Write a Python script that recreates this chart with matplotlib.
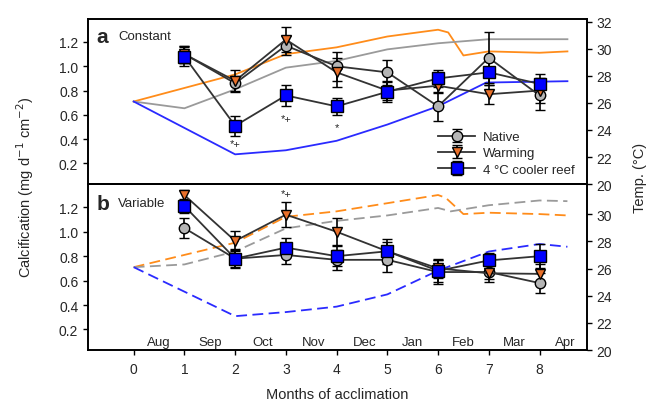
import matplotlib
matplotlib.use('Agg')
import matplotlib.pyplot as plt
import numpy as np

plt.rcParams['font.family'] = ['Liberation Sans', 'DejaVu Sans']
plt.rcParams['font.size'] = 9.5

# months of acclimation
months = [1, 2, 3, 4, 5, 6, 7, 8]
month_names = ['Aug', 'Sep', 'Oct', 'Nov', 'Dec', 'Jan', 'Feb', 'Mar', 'Apr']
month_pos = [0.5, 1.5, 2.55, 3.55, 4.55, 5.5, 6.5, 7.5, 8.5]

# calcification, panel a (constant)
a_native = [1.10, 0.86, 1.17, 1.00, 0.95, 0.67, 1.07, 0.76]
a_native_err = [0.07, 0.06, 0.08, 0.12, 0.10, 0.12, 0.21, 0.12]
a_warm = [1.10, 0.88, 1.22, 0.95, 0.80, 0.84, 0.77, 0.80]
a_warm_err = [0.07, 0.09, 0.10, 0.12, 0.08, 0.06, 0.08, 0.10]
a_cool = [1.08, 0.51, 0.76, 0.67, 0.79, 0.90, 0.95, 0.855]
a_cool_err = [0.08, 0.08, 0.09, 0.07, 0.08, 0.07, 0.10, 0.08]

# calcification, panel b (variable)
b_native = [1.03, 0.78, 0.81, 0.77, 0.77, 0.67, 0.67, 0.58]
b_native_err = [0.08, 0.08, 0.07, 0.08, 0.10, 0.10, 0.06, 0.08]
b_warm = [1.30, 0.925, 1.14, 1.00, 0.84, 0.70, 0.66, 0.655]
b_warm_err = [0.04, 0.08, 0.10, 0.11, 0.10, 0.08, 0.07, 0.08]
b_cool = [1.21, 0.78, 0.87, 0.80, 0.84, 0.68, 0.765, 0.80]
b_cool_err = [0.06, 0.07, 0.08, 0.08, 0.08, 0.09, 0.06, 0.10]

# temperature traces (deg C)
ta_warm_x = [0, 2, 3, 4, 5, 6, 6.2, 6.5, 7, 8, 8.55]
ta_warm = [26.1, 28.1, 29.6, 30.1, 30.9, 31.4, 31.2, 29.5, 29.8, 29.7, 29.8]
ta_nat_x = [0, 1, 2, 3, 4, 5, 6, 7, 8.55]
ta_nat = [26.1, 25.6, 27.0, 28.6, 29.1, 29.95, 30.4, 30.7, 30.7]
ta_cool_x = [0, 2, 3, 4, 5, 6, 6.95, 8.55]
ta_cool = [26.1, 22.2, 22.5, 23.2, 24.4, 25.75, 27.5, 27.6]

tb_warm_x = [0, 2, 3, 4, 5, 6, 6.15, 6.5, 7, 8, 8.55]
tb_warm = [26.1, 27.9, 29.8, 30.2, 30.8, 31.4, 31.2, 30.0, 30.1, 30.0, 29.9]
tb_nat_x = [0, 1, 2, 3, 4, 5, 6, 6.25, 7, 8, 8.55]
tb_nat = [26.1, 26.3, 27.25, 28.95, 29.5, 29.9, 30.45, 30.2, 30.65, 31.0, 30.95]
tb_cool_x = [0, 2, 3, 4, 5, 6, 7, 8, 8.55]
tb_cool = [26.1, 22.5, 22.8, 23.2, 24.1, 25.85, 27.25, 27.8, 27.6]

orange = '#ff8c1a'
blue = '#2a2aff'
grey = '#9a9a9a'
txt = '#262626'

fig = plt.figure(figsize=(6.57, 4.06), dpi=100)
ax_a = fig.add_axes([0.134, 0.544, 0.759, 0.407])
ax_b = fig.add_axes([0.134, 0.135, 0.759, 0.409])


def draw_panel(ax, native, nerr, warm, werr, cool, cerr, temps, dashed):
    axt = ax.twinx()
    ax.set_zorder(axt.get_zorder() + 1)
    ax.patch.set_visible(False)
    ls = (0, (6, 3)) if dashed else '-'
    for tx, ty, c in temps:
        axt.plot(tx, ty, color=c, lw=1.3, ls=ls)
    axt.set_ylim(20, 32.2)

    kw = dict(color='#333333', lw=1.3, capsize=3.3, elinewidth=1.2,
              capthick=1.2, ecolor='black', markeredgecolor='black',
              markeredgewidth=1.0)
    ax.errorbar(months, native, yerr=nerr, marker='o', markerfacecolor='#b5b5b5',
                markersize=7.5, label='Native', **kw)
    ax.errorbar(months, warm, yerr=werr, marker='v', markerfacecolor='#e8702a',
                markersize=7, label='Warming', **kw)
    ax.errorbar(months, cool, yerr=cerr, marker='s', markerfacecolor='#0000ff',
                markersize=8, label='4 °C cooler reef', **kw)

    ax.set_xlim(-0.9, 8.93)
    ax.set_ylim(0.03, 1.39)
    ax.set_yticks([0.2, 0.4, 0.6, 0.8, 1.0, 1.2])
    ax.set_yticklabels(['0.2', '0.4', '0.6', '0.8', '1.0', '1.2'])
    for a in (ax, axt):
        a.tick_params(direction='out', length=3.5, width=1, colors='black',
                      labelcolor=txt, labelsize=10)
        for s in a.spines.values():
            s.set_linewidth(1.2)
    return axt


ta = draw_panel(ax_a, a_native, a_native_err, a_warm, a_warm_err, a_cool, a_cool_err,
                [(ta_warm_x, ta_warm, orange), (ta_nat_x, ta_nat, grey),
                 (ta_cool_x, ta_cool, blue)], False)
tb = draw_panel(ax_b, b_native, b_native_err, b_warm, b_warm_err, b_cool, b_cool_err,
                [(tb_warm_x, tb_warm, orange), (tb_nat_x, tb_nat, grey),
                 (tb_cool_x, tb_cool, blue)], True)

ta.set_yticks([20, 22, 24, 26, 28, 30, 32])
tb.set_yticks([20, 22, 24, 26, 28, 30])

ax_a.set_xticks([])
ax_b.set_xticks(range(0, 9))
ax_b.tick_params(axis='x', labelsize=10, pad=5)

# significance marks
ax_a.text(2, 0.36, '*+', ha='center', va='center', fontsize=8, color=txt)
ax_a.text(3, 0.57, '*+', ha='center', va='center', fontsize=8, color=txt)
ax_a.text(4, 0.50, '*', ha='center', va='center', fontsize=8, color=txt)
ax_b.text(3, 1.31, '*+', ha='center', va='center', fontsize=8, color=txt)

# panel labels
ax_a.text(0.017, 0.895, 'a', transform=ax_a.transAxes, fontsize=15,
          fontweight='bold', va='center', color=txt)
ax_a.text(0.06, 0.895, 'Constant', transform=ax_a.transAxes, fontsize=9.5,
          va='center', color=txt)
ax_b.text(0.017, 0.885, 'b', transform=ax_b.transAxes, fontsize=15,
          fontweight='bold', va='center', color=txt)
ax_b.text(0.06, 0.885, 'Variable', transform=ax_b.transAxes, fontsize=9.5,
          va='center', color=txt)

for m, p in zip(month_names, month_pos):
    ax_b.text(p, 0.1, m, ha='center', va='center', fontsize=9.5, color=txt)

leg = ax_a.legend(loc='lower right', bbox_to_anchor=(1.0, -0.02), frameon=False,
                  fontsize=9.5, handlelength=2.8, handletextpad=0.6,
                  labelspacing=0.3)
for t in leg.get_texts():
    t.set_color(txt)

fig.text(25 / 657, 1 - 187 / 406, 'Calcification (mg d$^{-1}$ cm$^{-2}$)',
         rotation=90, ha='center', va='center', fontsize=10.5, color=txt)
fig.text(640 / 657, 1 - 178 / 406, 'Temp. (°C)', rotation=90, ha='center',
         va='center', fontsize=10.5, color=txt)
fig.text(337 / 657, 1 - 395 / 406, 'Months of acclimation', ha='center',
         va='center', fontsize=10.5, color=txt)

fig.savefig('out.png', dpi=100)
